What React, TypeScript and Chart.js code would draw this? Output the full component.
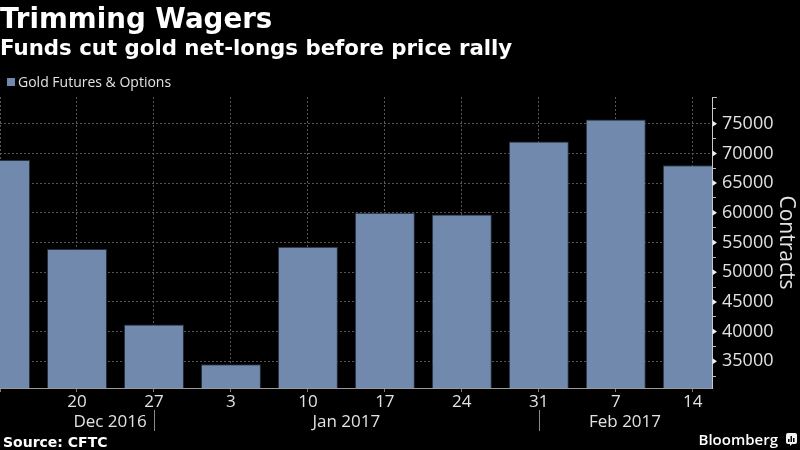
import React, { useEffect, useRef } from 'react';
import { Chart, registerables } from 'chart.js';

Chart.register(...registerables);

// ---- data ----
const weekLabels = ['13', '20', '27', '3', '10', '17', '24', '31', '7', '14'];
const netLongs = [68900, 53900, 41200, 34500, 54300, 60000, 59700, 72000, 75700, 68000];
const yTickValues = [32500, 35000, 37500, 40000, 42500, 45000, 47500, 50000, 52500, 55000, 57500, 60000, 62500, 65000, 67500, 70000, 72500, 75000, 77500];
const monthLabels = ['Dec 2016', 'Jan 2017', 'Feb 2017'];
const monthCenters = [1.43, 4.5, 8.12];
const monthDividers = [2, 7];
const seriesName = 'Gold Futures & Options';
const titleText = 'Trimming Wagers';
const subtitleText = 'Funds cut gold net-longs before price rally';
const sourceText = 'Source: CFTC';
const brandText = 'Bloomberg';
const axisTitle = 'Contracts';

const BAR = '#7189ac';
const GRID = 'rgba(95,95,95,0.9)';
const TEXT = '#e2e2e2';

const isMajor = (v: number) => Math.round(v) % 5000 === 0;

const decor = {
  id: 'decor',
  beforeDraw(chart: any) {
    const { ctx, width, height } = chart;
    ctx.save();
    ctx.fillStyle = '#000';
    ctx.fillRect(0, 0, width, height);
    ctx.restore();
  },
  afterDraw(chart: any) {
    const { ctx, chartArea } = chart;
    const x = chart.scales.x;
    const y = chart.scales.y;
    ctx.save();
    ctx.textAlign = 'left';
    ctx.textBaseline = 'alphabetic';
    ctx.fillStyle = '#ffffff';
    ctx.font = 'bold 27.7px "DejaVu Sans"';
    ctx.fillText(titleText, 0, 28);
    ctx.font = 'bold 21.3px "DejaVu Sans"';
    ctx.fillText(subtitleText, 0, 55);

    // legend
    ctx.fillStyle = BAR;
    ctx.fillRect(7, 78, 8, 8);
    ctx.fillStyle = TEXT;
    ctx.font = '14px "Open Sans"';
    ctx.fillText(seriesName, 18, 87);

    // y-axis major tick triangles
    const ax = chartArea.right;
    ctx.fillStyle = '#f0f0f0';
    y.ticks.forEach((t: any) => {
      if (isMajor(t.value)) {
        const py = y.getPixelForValue(t.value);
        ctx.beginPath();
        ctx.moveTo(ax + 0.5, py - 3);
        ctx.lineTo(ax + 0.5, py + 3);
        ctx.lineTo(ax + 5, py);
        ctx.closePath();
        ctx.fill();
      }
    });
    // top end tick
    ctx.strokeStyle = '#bbb';
    ctx.lineWidth = 1;
    ctx.beginPath();
    ctx.moveTo(ax, chartArea.top + 0.5);
    ctx.lineTo(ax + 5, chartArea.top + 0.5);
    ctx.stroke();

    // month labels
    ctx.fillStyle = TEXT;
    ctx.font = '17px "Open Sans"';
    ctx.textAlign = 'center';
    monthLabels.forEach((m, i) => {
      ctx.fillText(m, x.getPixelForValue(monthCenters[i]), 427);
    });
    ctx.strokeStyle = '#8a8a8a';
    monthDividers.forEach((d) => {
      const px = Math.round(x.getPixelForValue(d)) + 0.5;
      ctx.beginPath();
      ctx.moveTo(px, 410);
      ctx.lineTo(px, 431);
      ctx.stroke();
    });

    // source
    ctx.textAlign = 'left';
    ctx.fillStyle = '#ffffff';
    ctx.font = 'bold 14px "DejaVu Sans"';
    ctx.fillText(sourceText, 3, 447);

    // brand
    ctx.textAlign = 'right';
    ctx.font = '600 15px "Open Sans"';
    ctx.fillText(brandText, 778, 445);
    // brand icon
    ctx.fillStyle = '#f2f2f2';
    ctx.beginPath();
    const bx = 786, by = 433, bw = 11, bh = 11;
    ctx.moveTo(bx + 2, by);
    ctx.lineTo(bx + bw - 2, by);
    ctx.quadraticCurveTo(bx + bw, by, bx + bw, by + 2);
    ctx.lineTo(bx + bw, by + bh - 2);
    ctx.quadraticCurveTo(bx + bw, by + bh, bx + bw - 2, by + bh);
    ctx.lineTo(bx + 6, by + bh);
    ctx.lineTo(bx + 4, by + bh + 2);
    ctx.lineTo(bx + 4, by + bh);
    ctx.lineTo(bx + 2, by + bh);
    ctx.quadraticCurveTo(bx, by + bh, bx, by + bh - 2);
    ctx.lineTo(bx, by + 2);
    ctx.quadraticCurveTo(bx, by, bx + 2, by);
    ctx.fill();
    ctx.fillStyle = '#000';
    ctx.fillRect(bx + 2, by + 6, 1.5, 3);
    ctx.fillRect(bx + 4.5, by + 3, 1.5, 6);
    ctx.fillRect(bx + 7, by + 5, 1.5, 4);
    ctx.restore();
  },
};

export default function App() {
  const ref = useRef<HTMLCanvasElement | null>(null);
  useEffect(() => {
    document.body.style.margin = '0';
    document.body.style.background = '#000';
    if (!ref.current) return;
    const chart = new Chart(ref.current, {
      type: 'bar',
      data: {
        datasets: [
          {
            label: seriesName,
            data: netLongs.map((v, i) => ({ x: i, y: v })),
            backgroundColor: BAR,
            borderColor: 'rgba(40,52,70,0.9)',
            borderWidth: 1,
            categoryPercentage: 1,
            barPercentage: 0.78,
            clip: 0,
          } as any,
        ],
      },
      options: {
        responsive: false,
        animation: false,
        layout: { padding: { top: 97, left: 0, right: 0, bottom: 0 } },
        plugins: { legend: { display: false }, tooltip: { enabled: false } },
        scales: {
          x: {
            type: 'linear',
            min: 0,
            max: 9.25,
            offset: false,
            afterBuildTicks: (scale: any) => {
              scale.ticks = weekLabels.map((_, i) => ({ value: i }));
            },
            afterFit: (scale: any) => {
              scale.height = 62;
            },
            grid: {
              offset: false,
              color: GRID,
              drawTicks: true,
              tickLength: 4,
              tickColor: '#777',
              tickBorderDash: [],
            } as any,
            border: { display: true, color: '#9a9a9a', width: 1, dash: [2, 2] },
            ticks: {
              color: TEXT,
              font: { family: 'Open Sans', size: 17 },
              padding: 0,
              maxRotation: 0,
              autoSkip: false,
              callback: (v: any) => {
                const i = Math.round(Number(v));
                return i === 0 ? '' : weekLabels[i];
              },
            },
          },
          y: {
            type: 'linear',
            position: 'right',
            min: 30500,
            max: 79500,
            afterBuildTicks: (scale: any) => {
              scale.ticks = yTickValues.map((v) => ({ value: v }));
            },
            afterFit: (scale: any) => {
              scale.width = 88;
            },
            grid: {
              color: (c: any) => (c.tick && isMajor(c.tick.value) ? GRID : 'transparent'),
              drawTicks: true,
              tickLength: 4,
              tickColor: (c: any) => (c.tick && isMajor(c.tick.value) ? 'transparent' : '#bbb'),
              tickBorderDash: [],
            } as any,
            border: { display: true, color: '#c8c8c8', width: 1, dash: [2, 2] },
            ticks: {
              color: TEXT,
              font: { family: 'Open Sans', size: 18 },
              padding: 6,
              autoSkip: false,
              callback: (v: any) => (isMajor(Number(v)) ? String(v) : ''),
            },
            title: {
              display: true,
              text: axisTitle,
              color: TEXT,
              font: { family: 'Open Sans', size: 21 },
              padding: { top: 1, bottom: 0 },
            },
          },
        },
      },
      plugins: [decor],
    });
    return () => chart.destroy();
  }, []);
  return (
    <div style={{ position: 'fixed', left: 0, top: 0, width: 800, height: 450, background: '#000' }}>
      <canvas ref={ref} width={800} height={450} style={{ display: 'block' }} />
    </div>
  );
}
